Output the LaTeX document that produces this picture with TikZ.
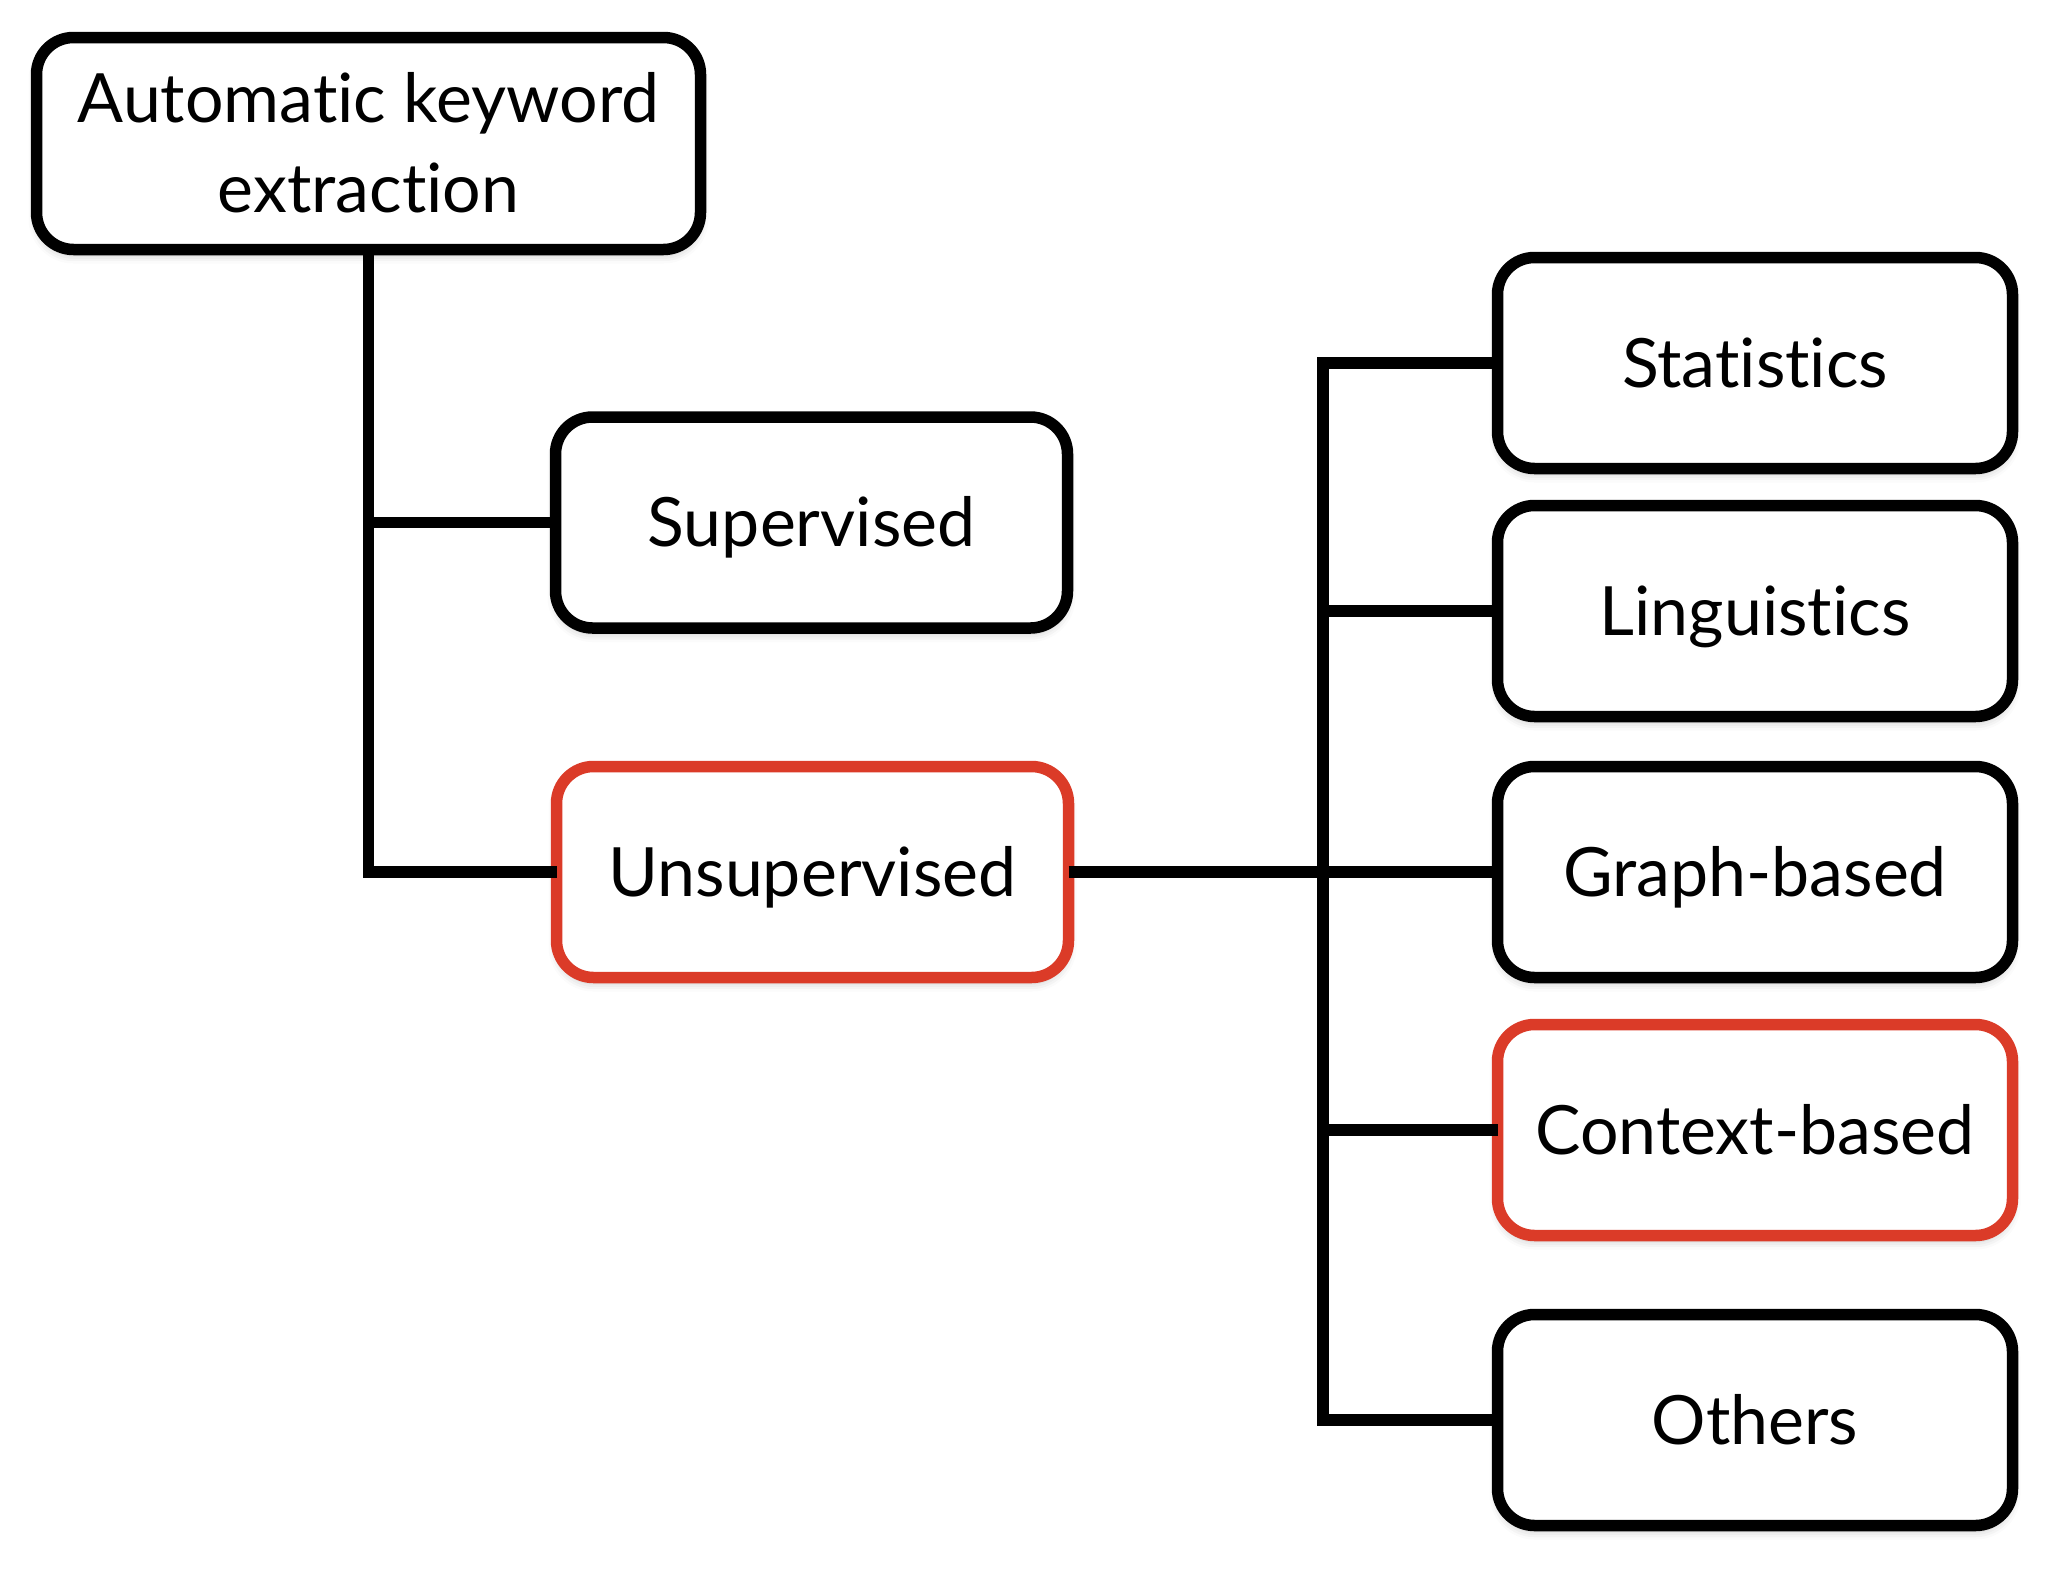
\documentclass[tikz,border=0pt]{standalone}
\usepackage{fontspec}
\setmainfont{Lato}[RawFeature={-liga;-clig;-dlig}]
\usetikzlibrary{shadows.blur}
\definecolor{boxred}{HTML}{DB3B28}
\tikzset{
  box/.style={draw=black, line width=11.5pt, rounded corners=37pt, fill=white,
    minimum width=515pt, minimum height=211pt, inner sep=0pt, outer sep=0pt,
    text height=48pt, text depth=0pt, font=\fontsize{68}{90}\selectfont,
    blur shadow={shadow xshift=0pt, shadow yshift=-6pt, shadow blur radius=8pt, shadow opacity=22}},
  redbox/.style={box, draw=boxred},
  conn/.style={draw=black, line width=11.5pt, line join=miter}
}
\begin{document}
\begin{tikzpicture}[x=1pt, y=-1pt]
  \useasboundingbox (0,0) rectangle (2058,1590);
  % left column
  \node[box, minimum width=664pt, minimum height=212pt, align=center, text height=138pt] (root) at (368.5,143.5) {Automatic keyword\\extraction};
  \node[box, minimum width=512pt] (sup) at (811.5,522.5) {Supervised};
  \node[redbox, minimum width=512pt] (unsup) at (812.5,872) {Unsupervised};
  % right column
  \node[box] (stats) at (1755,363) {Statistics};
  \node[box] (ling) at (1755,611) {Linguistics};
  \node[box] (graph) at (1755,872) {Graph-based};
  \node[redbox] (ctx) at (1755,1130) {Context-based};
  \node[box] (others) at (1755,1420) {Others};
  \coordinate (rt) at (1323,0);
  % connectors
  \draw[conn] (root.south) -- (root.south |- unsup.west) -- (unsup.west);
  \draw[conn] (root.south |- sup.west) -- (sup.west);
  \draw[conn] (stats.west) -- (rt |- stats.west) -- (rt |- others.west) -- (others.west);
  \draw[conn] (unsup.east) -- (graph.west);
  \draw[conn] (rt |- ling.west) -- (ling.west);
  \draw[conn] (rt |- ctx.west) -- (ctx.west);
\end{tikzpicture}
\end{document}
